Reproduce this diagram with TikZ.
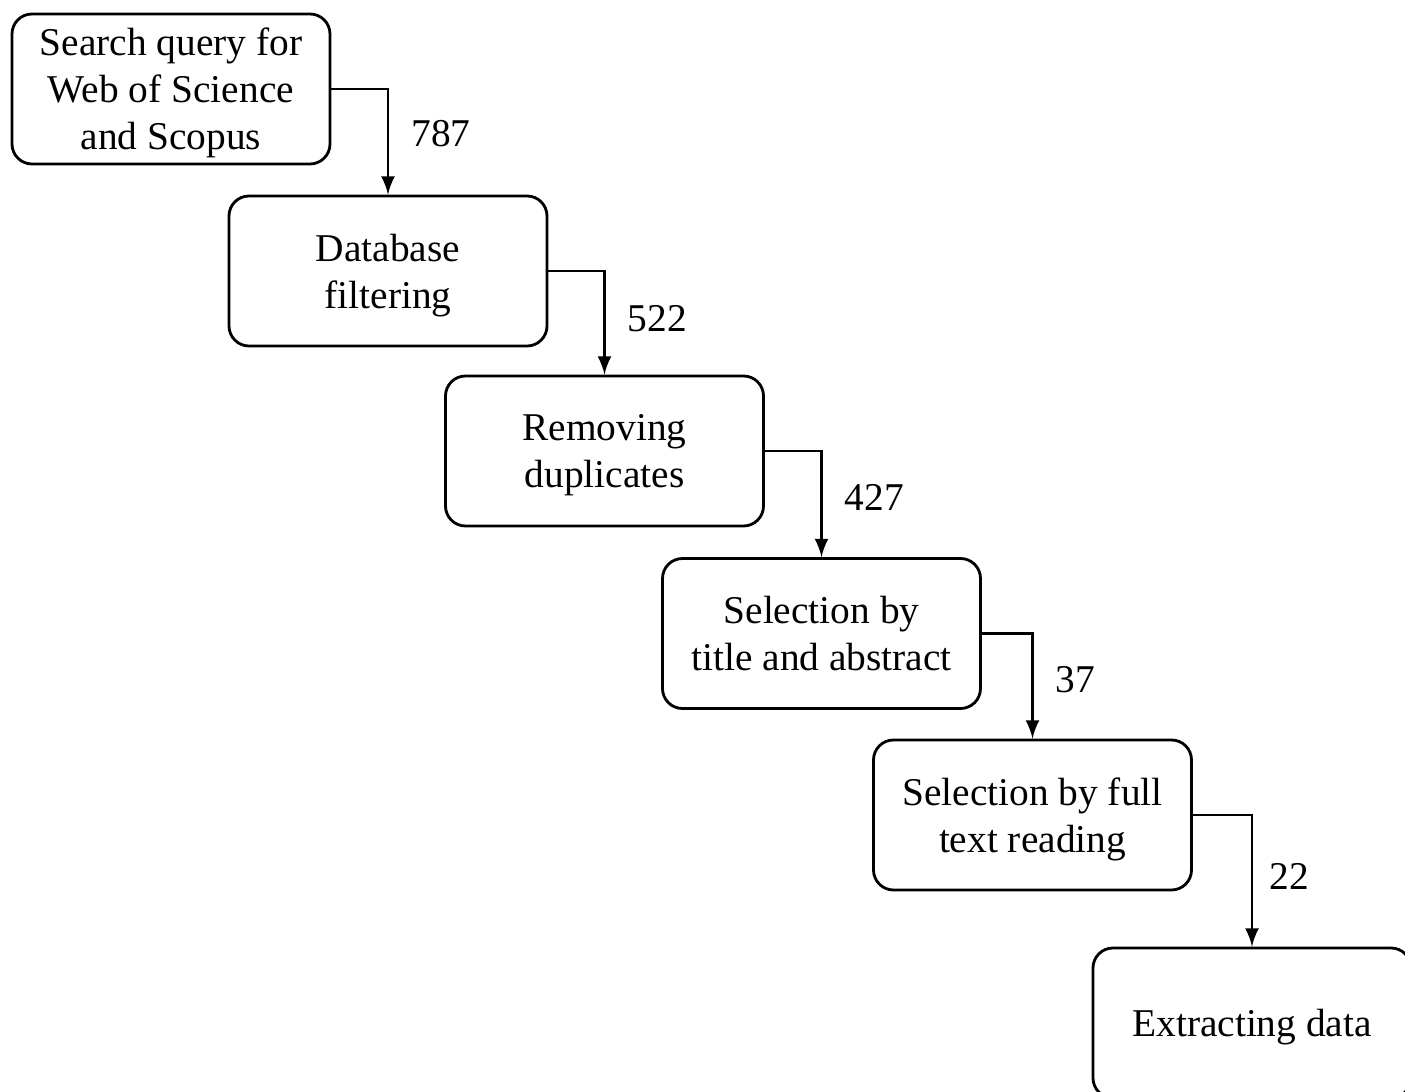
\documentclass[tikz,border=0pt]{standalone}
\usepackage{fontspec}
\setmainfont{Liberation Serif}
\usetikzlibrary{arrows, calc, positioning}

\begin{document}
\begin{tikzpicture}
    \tikzset{>=latex}
    \tikzset{stage/.style={draw,line width=0.8pt,rounded corners=0.2cm,minimum width=3.18cm,minimum height=1.5cm,align=center,inner sep=0pt,text depth=0pt,font=\fontsize{11.2}{13.4}\selectfont}}
    \tikzset{flow/.style={->,line width=0.8pt}}
    \tikzset{tally/.style={anchor=west,inner sep=0pt,xshift=0.22cm,font=\fontsize{11.2}{13.4}\selectfont}}
    \def\W{14.05}
    \def\H{10.92}
    \useasboundingbox (0,0) rectangle (\W,-\H);
    \clip (0,0) rectangle (\W,-\H);

    \node[stage] (query) at (1.71,-0.89) {Search query for\\Web of Science\\and Scopus};
    \node[stage] (filter) at (3.88,-2.71) {Database\\filtering};
    \node[stage] (dupl) at (6.045,-4.51) {Removing\\duplicates};
    \node[stage] (title) at (8.215,-6.335) {Selection by\\title and abstract};
    \node[stage] (fulltext) at (10.325,-8.15) {Selection by full\\text reading};
    \node[stage] (extract) at (12.52,-10.23) {Extracting data};

    \draw[flow] (query.east) -| (filter.north) node[tally,pos=0.71] {787};
    \draw[flow] (filter.east) -| (dupl.north) node[tally,pos=0.73] {522};
    \draw[flow] (dupl.east) -| (title.north) node[tally,pos=0.72] {427};
    \draw[flow] (title.east) -| (fulltext.north) node[tally,pos=0.72] {37};
    \draw[flow] (fulltext.east) -| (extract.north) node[tally,pos=0.735,xshift=-0.06cm] {22};
\end{tikzpicture}
\end{document}
